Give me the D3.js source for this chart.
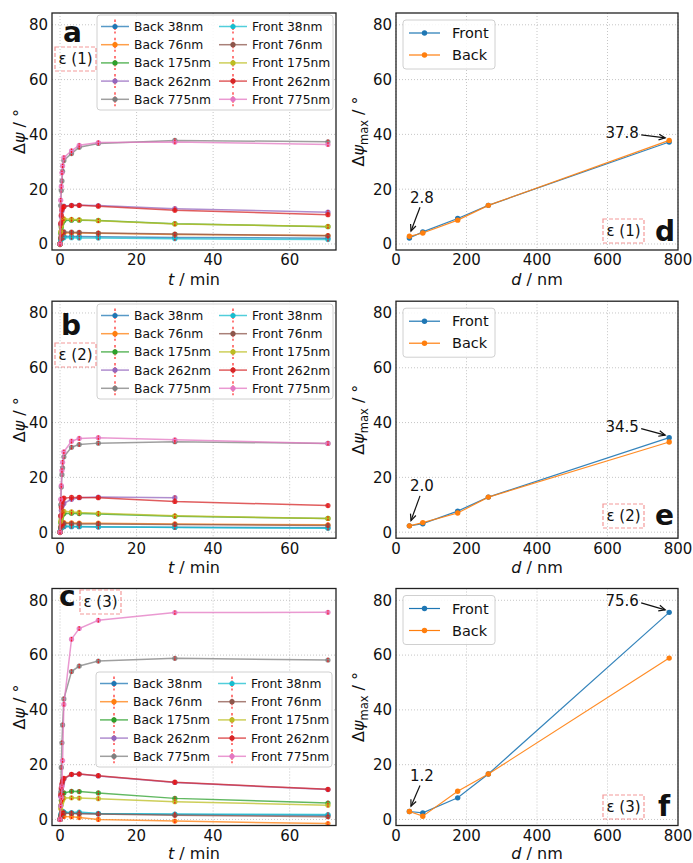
<!DOCTYPE html>
<html><head><meta charset="utf-8">
<script src="https://cdn.jsdelivr.net/npm/d3@7"></script>
<style>body{margin:0;background:#fff} svg text{font-family:"DejaVu Sans",sans-serif;fill:#111}</style>
</head><body><svg id="c" width="693" height="863"></svg>
<script>
// ---------- data ----------
const times = [0, 0.17, 0.33, 0.5, 0.67, 1, 3, 5, 10, 30, 70];
const seriesNames = ["Back 38nm","Back 76nm","Back 175nm","Back 262nm","Back 775nm",
                     "Front 38nm","Front 76nm","Front 175nm","Front 262nm","Front 775nm"];
const seriesColors = ["#1f77b4","#ff7f0e","#2ca02c","#9467bd","#7f7f7f",
                      "#17becf","#8c564b","#bcbd22","#d62728","#e377c2"];
const errorBar = 0.8;
const eps1Values = [
  [0, 1.5, 2.2, 2.5, 2.7, 2.8, 2.7, 2.7, 2.6, 2.4, 2.1],
  [0, 2.0, 3.0, 3.6, 3.9, 4.0, 4.0, 4.0, 3.9, 3.5, 3.1],
  [0, 4.0, 6.0, 7.5, 8.2, 8.6, 8.7, 8.7, 8.6, 7.4, 6.3],
  [0, 7.0, 10.0, 12.0, 13.0, 13.8, 14.1, 14.1, 14.0, 12.9, 11.6],
  [0, 14.0, 19.5, 23.0, 26.5, 30.5, 33.0, 35.3, 36.7, 37.8, 37.3],
  [0, 1.3, 1.8, 2.0, 2.2, 2.3, 2.3, 2.2, 2.2, 1.9, 1.6],
  [0, 2.2, 3.3, 3.9, 4.2, 4.4, 4.3, 4.2, 4.0, 3.6, 3.0],
  [0, 4.5, 6.5, 8.0, 8.7, 9.2, 9.0, 8.8, 8.5, 7.3, 6.4],
  [0, 7.5, 10.5, 12.5, 13.3, 13.6, 14.0, 14.1, 13.8, 12.3, 10.7],
  [0, 16.0, 21.0, 26.0, 28.5, 31.5, 34.0, 36.0, 37.0, 37.2, 36.3]
];
const eps2Values = [
  [0, 1.2, 1.7, 1.9, 2.0, 2.0, 2.0, 2.0, 1.9, 1.8, 1.6],
  [0, 1.8, 2.6, 3.0, 3.3, 3.5, 3.4, 3.3, 3.3, 3.0, 2.7],
  [0, 3.5, 5.0, 6.0, 6.5, 6.8, 6.9, 6.8, 6.6, 5.8, 5.0],
  [0, 6.0, 8.0, 9.5, 10.0, 10.5, 12.0, 12.6, 12.8, 12.6, null],
  [0, 10.0, 16.5, 21.0, 23.5, 27.5, 31.0, 32.0, 32.5, 33.0, 32.4],
  [0, 1.3, 1.8, 2.0, 2.2, 2.3, 2.2, 2.1, 2.0, 1.7, 1.4],
  [0, 1.7, 2.4, 2.8, 3.0, 3.2, 3.1, 3.0, 3.0, 2.8, 2.4],
  [0, 4.0, 5.5, 6.5, 7.2, 7.6, 7.4, 7.2, 6.9, 6.0, 5.0],
  [0, 6.0, 9.0, 11.0, 12.0, 12.4, 12.7, 12.7, 12.6, 11.2, 9.7],
  [0, 12.0, 17.0, 22.5, 25.5, 29.3, 33.2, 34.2, 34.5, 33.7, 32.4]
];
const eps3Values = [
  [0, 1.5, 2.3, 2.7, 2.9, 2.6, 2.3, 2.3, 2.1, 1.8, 1.5],
  [0, 0.6, 0.9, 1.1, 1.2, 1.1, 1.0, 0.7, 0.0, -0.6, -1.5],
  [0, 5.0, 7.0, 8.5, 9.5, 9.7, 10.3, 10.2, 9.7, 7.7, 6.0],
  [0, 8.5, 11.0, 12.5, 13.5, 14.8, 16.4, 16.6, 15.9, 13.5, 10.9],
  [0, 10.0, 19.0, 28.0, 34.5, 44.0, 54.0, 56.0, 57.8, 58.8, 58.2],
  [0, 1.5, 2.2, 2.6, 2.9, 2.7, 2.5, 2.7, 2.2, 2.0, 1.8],
  [0, 1.2, 1.8, 2.2, 2.4, 2.3, 2.2, 2.1, 2.0, 1.5, 1.0],
  [0, 4.0, 5.5, 6.5, 7.2, 7.8, 7.9, 7.8, 7.6, 6.5, 5.2],
  [0, 9.0, 11.5, 13.0, 14.0, 15.0, 16.5, 16.6, 16.0, 13.6, 11.0],
  [0, 5.0, 8.0, 12.0, 21.5, 42.0, 65.8, 69.7, 72.7, 75.5, 75.6]
];
const thickness = [38, 76, 175, 262, 775];
const maxFront1 = [2.2, 4.4, 9.3, 14.1, 37.2];
const maxBack1  = [2.8, 4.0, 8.7, 14.1, 37.8];
const maxFront2 = [2.3, 3.1, 7.7, 12.8, 34.5];
const maxBack2  = [2.3, 3.5, 7.0, 12.8, 32.9];
const maxFront3 = [2.9, 2.4, 7.9, 16.6, 75.6];
const maxBack3  = [2.9, 1.2, 10.3, 16.6, 58.9];
const yTicks = [0, 20, 40, 60, 80];
const tTicks = [0, 20, 40, 60];
const dTicks = [0, 200, 400, 600, 800];
const epsLabels = ["ε (1)", "ε (2)", "ε (3)"];
const leftLetters = ["a", "b", "c"];
const rightLetters = ["d", "e", "f"];
const annotHigh = ["37.8", "34.5", "75.6"];
const annotLow = ["2.8", "2.0", "1.2"];

// ---------- layout ----------
const svg = d3.select("#c");
const rowTops = [13, 301.2, 588.5], panelH = 237;
const yDomain = [-2.2, 84.3];
const xLeft = d3.scaleLinear().domain([-2.1, 72.1]).range([52, 336]);
const xRight = d3.scaleLinear().domain([0, 800]).range([396, 678]);

function frameAndGrid(g, x, y, xt, top) {
  const [x0, x1] = x.range();
  const gg = g.append("g");
  xt.forEach(v => gg.append("line").attr("x1", x(v)).attr("x2", x(v)).attr("y1", top).attr("y2", top + panelH)
      .attr("stroke", "#b8b8b8").attr("stroke-width", 0.8).attr("stroke-dasharray", "1,2"));
  yTicks.forEach(v => gg.append("line").attr("x1", x0).attr("x2", x1).attr("y1", y(v)).attr("y2", y(v))
      .attr("stroke", "#b8b8b8").attr("stroke-width", 0.8).attr("stroke-dasharray", "1,2"));
  xt.forEach(v => g.append("text").attr("x", x(v)).attr("y", top + panelH + 15.3).attr("text-anchor", "middle")
      .attr("font-size", 15).text(v));
  yTicks.forEach(v => g.append("text").attr("x", x0 - 4).attr("y", y(v)).attr("dy", "0.36em").attr("text-anchor", "end")
      .attr("font-size", 15).text(v));
}
function frameRect(g, x, top) {
  const [x0, x1] = x.range();
  g.append("rect").attr("x", x0).attr("y", top).attr("width", x1 - x0).attr("height", panelH)
    .attr("fill", "none").attr("stroke", "#222").attr("stroke-width", 1.3);
}
function epsBox(g, bx, by, label) {
  g.append("rect").attr("x", bx).attr("y", by).attr("width", 41).attr("height", 24)
    .attr("fill", "none").attr("stroke", "#f08080").attr("stroke-opacity", 0.8)
    .attr("stroke-width", 1.2).attr("stroke-dasharray", "4,2");
  g.append("text").attr("x", bx + 20.5).attr("y", by + 17).attr("text-anchor", "middle")
    .attr("font-size", 15).text(label);
}
function xLabelY(top) { return Math.min(top + panelH + 34.5, 859.2); }

// ---------- left panels ----------
const allEps = [eps1Values, eps2Values, eps3Values];
const legendPosLeft = [[97, 15], [97, 304], [96, 672]];
const epsPosLeft = [[55, 47], [55, 343], [80, 590]];
const letterPosLeft = [[63, 42], [61, 335], [59, 606]];

allEps.forEach((vals, p) => {
  const top = rowTops[p];
  const y = d3.scaleLinear().domain(yDomain).range([top + panelH, top]);
  const g = svg.append("g");
  frameAndGrid(g, xLeft, y, tTicks, top);
  const clipId = "clipL" + p;
  g.append("clipPath").attr("id", clipId).append("rect").attr("x", 52).attr("y", top).attr("width", 284).attr("height", panelH);
  const plot = g.append("g").attr("clip-path", `url(#${clipId})`);
  vals.forEach((s, i) => {
    const pts = times.map((t, k) => ({t, v: s[k]})).filter(d => d.v !== null);
    const sg = plot.append("g");
    sg.append("path").datum(pts)
      .attr("d", d3.line().x(d => xLeft(d.t)).y(d => y(d.v)))
      .attr("fill", "none").attr("stroke", seriesColors[i]).attr("stroke-width", 1.5).attr("stroke-opacity", 0.75);
    sg.selectAll("circle").data(pts).join("circle")
      .attr("cx", d => xLeft(d.t)).attr("cy", d => y(d.v)).attr("r", 2.6)
      .attr("fill", seriesColors[i]).attr("fill-opacity", 0.85);
    sg.selectAll("line.err").data(pts).join("line").attr("class", "err")
      .attr("x1", d => xLeft(d.t)).attr("x2", d => xLeft(d.t))
      .attr("y1", d => y(d.v - errorBar)).attr("y2", d => y(d.v + errorBar))
      .attr("stroke", "red").attr("stroke-opacity", 0.8).attr("stroke-width", 1.3).attr("stroke-dasharray", "2,1");
  });
  frameRect(g, xLeft, top);
  // legend
  const [lx, ly] = legendPosLeft[p];
  const lg = g.append("g");
  lg.append("rect").attr("x", lx).attr("y", ly).attr("width", 236).attr("height", 95).attr("rx", 3)
    .attr("fill", "#fff").attr("fill-opacity", 0.85).attr("stroke", "#d0d0d0").attr("stroke-width", 1);
  seriesNames.forEach((name, i) => {
    const col = Math.floor(i / 5), row = i % 5;
    const hx = lx + 4 + col * 118, cy = ly + 11.5 + row * 18.2;
    lg.append("line").attr("x1", hx).attr("x2", hx + 28).attr("y1", cy).attr("y2", cy)
      .attr("stroke", seriesColors[i]).attr("stroke-width", 1.5).attr("stroke-opacity", 0.75);
    lg.append("line").attr("x1", hx + 14).attr("x2", hx + 14).attr("y1", cy - 7).attr("y2", cy + 7)
      .attr("stroke", "red").attr("stroke-opacity", 0.8).attr("stroke-width", 1.3).attr("stroke-dasharray", "2.5,1.5");
    lg.append("circle").attr("cx", hx + 14).attr("cy", cy).attr("r", 2.6).attr("fill", seriesColors[i]);
    lg.append("text").attr("x", hx + 33).attr("y", cy).attr("dy", "0.36em").attr("font-size", 12.3).text(name);
  });
  epsBox(g, epsPosLeft[p][0], epsPosLeft[p][1], epsLabels[p]);
  g.append("text").attr("x", letterPosLeft[p][0]).attr("y", letterPosLeft[p][1])
    .attr("font-size", 28).attr("font-weight", "bold").text(leftLetters[p]);
  // axis labels
  const xl = g.append("text").attr("x", 194).attr("y", xLabelY(top)).attr("text-anchor", "middle").attr("font-size", 16);
  xl.append("tspan").attr("font-style", "italic").text("t");
  xl.append("tspan").text(" / min");
  const yl = g.append("text").attr("transform", `translate(25,${top + panelH / 2}) rotate(-90)`)
    .attr("text-anchor", "middle").attr("font-size", 16);
  yl.append("tspan").text("Δ");
  yl.append("tspan").attr("font-style", "italic").text("ψ");
  yl.append("tspan").text(" / °");
});

// ---------- right panels ----------
const maxSets = [[maxFront1, maxBack1], [maxFront2, maxBack2], [maxFront3, maxBack3]];
const highOnFront = [false, true, true];
const epsPosRight = [[603, 219], [603, 504], [603, 795]];
const letterPosRight = [[655, 241], [655, 525], [658, 816]];
const highTextOff = [[-47, -7.5], [-47, -11], [-47, -11.5]];
const lowTextOff = [[12.6, -39], [12.6, -40], [12.6, -36]];

function arrow(g, sx, sy, ex, ey) {
  g.append("line").attr("x1", sx).attr("y1", sy).attr("x2", ex).attr("y2", ey).attr("stroke", "#111").attr("stroke-width", 1.2);
  const a = Math.atan2(ey - sy, ex - sx), L = 7, w = 0.42;
  const p1 = [ex - L * Math.cos(a - w), ey - L * Math.sin(a - w)];
  const p2 = [ex - L * Math.cos(a + w), ey - L * Math.sin(a + w)];
  g.append("path").attr("d", `M${p1[0]},${p1[1]}L${ex},${ey}L${p2[0]},${p2[1]}`)
    .attr("fill", "none").attr("stroke", "#111").attr("stroke-width", 1.2);
}

maxSets.forEach(([front, back], p) => {
  const top = rowTops[p];
  const y = d3.scaleLinear().domain(yDomain).range([top + panelH, top]);
  const g = svg.append("g");
  frameAndGrid(g, xRight, y, dTicks, top);
  [[front, "#1f77b4"], [back, "#ff7f0e"]].forEach(([arr, col]) => {
    const pts = thickness.map((d, k) => ({d, v: arr[k]}));
    g.append("path").datum(pts).attr("d", d3.line().x(d => xRight(d.d)).y(d => y(d.v)))
      .attr("fill", "none").attr("stroke", col).attr("stroke-width", 1.2).attr("stroke-opacity", 0.9);
    g.selectAll(null).data(pts).join("circle").attr("cx", d => xRight(d.d)).attr("cy", d => y(d.v))
      .attr("r", 2.7).attr("fill", col);
  });
  frameRect(g, xRight, top);
  // legend
  const lx = 403, ly = top + 7;
  g.append("rect").attr("x", lx).attr("y", ly).attr("width", 92).attr("height", 49).attr("rx", 3)
    .attr("fill", "#fff").attr("fill-opacity", 0.85).attr("stroke", "#d0d0d0");
  [["Front", "#1f77b4"], ["Back", "#ff7f0e"]].forEach(([name, col], i) => {
    const cy = ly + 13 + i * 22;
    g.append("line").attr("x1", lx + 6).attr("x2", lx + 37).attr("y1", cy).attr("y2", cy).attr("stroke", col).attr("stroke-width", 1.2);
    g.append("circle").attr("cx", lx + 21.5).attr("cy", cy).attr("r", 2.7).attr("fill", col);
    g.append("text").attr("x", lx + 49).attr("y", cy).attr("dy", "0.36em").attr("font-size", 14.5).text(name);
  });
  // annotations
  const hv = highOnFront[p] ? front[4] : back[4];
  const hx = xRight(thickness[4]), hy = y(hv);
  g.append("text").attr("x", hx + highTextOff[p][0]).attr("y", hy + highTextOff[p][1]).attr("dy", "0.36em")
    .attr("text-anchor", "middle").attr("font-size", 15).text(annotHigh[p]);
  arrow(g, hx + highTextOff[p][0] + 19, hy + highTextOff[p][1] + 2, hx - 4, hy - 2.5);
  const lxp = xRight(thickness[0]), lyp = y(back[0]);
  g.append("text").attr("x", lxp + lowTextOff[p][0]).attr("y", lyp + lowTextOff[p][1]).attr("dy", "0.36em")
    .attr("text-anchor", "middle").attr("font-size", 15).text(annotLow[p]);
  arrow(g, lxp + lowTextOff[p][0] - 2, lyp + lowTextOff[p][1] + 10, lxp + 1.6, lyp - 5.3);
  epsBox(g, epsPosRight[p][0], epsPosRight[p][1], epsLabels[p]);
  g.append("text").attr("x", letterPosRight[p][0]).attr("y", letterPosRight[p][1])
    .attr("font-size", 28).attr("font-weight", "bold").text(rightLetters[p]);
  const xl = g.append("text").attr("x", 537).attr("y", xLabelY(top)).attr("text-anchor", "middle").attr("font-size", 16);
  xl.append("tspan").attr("font-style", "italic").text("d");
  xl.append("tspan").text(" / nm");
  const yl = g.append("text").attr("transform", `translate(364,${top + panelH / 2}) rotate(-90)`)
    .attr("text-anchor", "middle").attr("font-size", 16);
  yl.append("tspan").text("Δ");
  yl.append("tspan").attr("font-style", "italic").text("ψ");
  yl.append("tspan").attr("font-size", 11.5).attr("dy", 3.5).text("max");
  yl.append("tspan").attr("dy", -3.5).text(" / °");
});
</script></body></html>
